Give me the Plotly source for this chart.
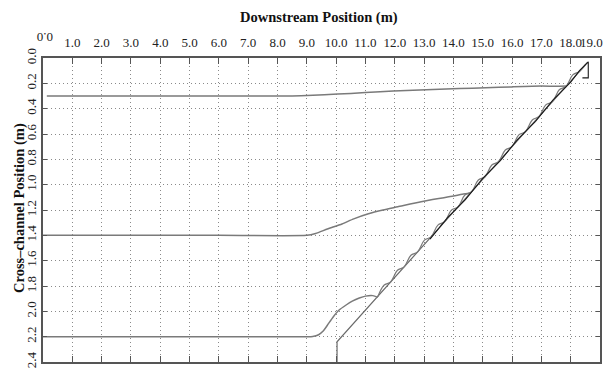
import plotly.graph_objects as go

# ---- data ----
x_ticks = [1.0, 2.0, 3.0, 4.0, 5.0, 6.0, 7.0, 8.0, 9.0, 10.0, 11.0, 12.0, 13.0, 14.0, 15.0, 16.0, 17.0, 18.0, 19.0]
x_tick_text = ["1.0", "2.0", "3.0", "4.0", "5.0", "6.0", "7.0", "8.0", "9.0", "10.0", "11.0", "12.0",
               "13.0", "14.0", "15.0", "16.0", "17.0", "18.0", "19.0"]
y_ticks = [0.0, 0.2, 0.4, 0.6, 0.8, 1.0, 1.2, 1.4, 1.6, 1.8, 2.0, 2.2, 2.4]
y_tick_text = ["0.0", "0.2", "0.4", "0.6", "0.8", "1.0", "1.2", "1.4", "1.6", "1.8", "2.0", "2.2", "2.4"]

# upper trajectory (starts at 0.3 m)
top_x = [0.13, 2.0, 5.0, 8.0, 8.8, 9.6, 10.5, 11.5, 12.4, 13.3, 14.2, 15.1, 16.0, 17.0, 17.5, 17.85]
top_y = [0.30, 0.30, 0.30, 0.30, 0.298, 0.290, 0.280, 0.266, 0.256, 0.248, 0.241, 0.235, 0.228, 0.222, 0.224, 0.222]

# middle trajectory (starts at 1.4 m)
mid_x = [0.0, 3.0, 6.0, 9.0, 9.3, 9.7, 10.2, 10.6, 11.1, 11.6, 12.1, 12.9, 13.5, 14.0, 14.3, 14.6]
mid_y = [1.40, 1.40, 1.40, 1.40, 1.385, 1.35, 1.31, 1.27, 1.23, 1.20, 1.175, 1.135, 1.11, 1.09, 1.075, 1.065]

# lower trajectory (starts at 2.2 m)
low_x = [0.0, 3.0, 6.0, 9.0, 9.2, 9.4, 9.54, 9.7, 9.88, 10.1, 10.34, 10.55, 10.79, 11.0, 11.25, 11.42]
low_y = [2.20, 2.20, 2.20, 2.20, 2.198, 2.185, 2.16, 2.11, 2.05, 1.99, 1.95, 1.92, 1.895, 1.88, 1.876, 1.89]

# wavy trace that follows the bank after the lower trajectory reaches it
wave_x = [11.42, 11.63, 11.86, 12.09, 12.32, 12.55, 12.78, 13.01, 13.24, 13.47, 13.70, 13.93, 14.16,
          14.39, 14.62, 14.85, 15.08, 15.31, 15.54, 15.77, 16.00, 16.23, 16.46, 16.69, 16.92,
          17.15, 17.38, 17.61, 17.84, 18.07, 18.30, 18.50]
wave_y = [1.885, 1.794, 1.768, 1.676, 1.649, 1.557, 1.531, 1.438, 1.412, 1.319, 1.293, 1.201, 1.175,
          1.082, 1.056, 0.963, 0.937, 0.845, 0.818, 0.726, 0.700, 0.607, 0.581, 0.489, 0.462,
          0.370, 0.344, 0.251, 0.225, 0.133, 0.106, 0.055]

# straight bank line
bank_x = [10.03, 10.03, 18.57]
bank_y = [2.40, 2.24, 0.036]

# dark trace along the bank
dark_x = [13.2, 13.8, 14.4, 15.0, 15.6, 16.2, 16.8, 17.4, 18.0, 18.3, 18.57, 18.6, 18.6, 18.4]
dark_y = [1.43, 1.26, 1.12, 0.95, 0.81, 0.64, 0.50, 0.33, 0.19, 0.10, 0.036, 0.03, 0.157, 0.157]

fig = go.Figure()
gray = "#7a7a7a"
fig.add_trace(go.Scatter(x=bank_x, y=bank_y, mode="lines", line=dict(color="#6a6a6a", width=1.2), hoverinfo="skip"))
fig.add_trace(go.Scatter(x=top_x, y=top_y, mode="lines", line=dict(color=gray, width=1.5, shape="spline", smoothing=0.6), hoverinfo="skip"))
fig.add_trace(go.Scatter(x=mid_x, y=mid_y, mode="lines", line=dict(color=gray, width=1.5, shape="spline", smoothing=0.6), hoverinfo="skip"))
fig.add_trace(go.Scatter(x=low_x, y=low_y, mode="lines", line=dict(color=gray, width=1.5, shape="spline", smoothing=0.6), hoverinfo="skip"))
fig.add_trace(go.Scatter(x=wave_x, y=wave_y, mode="lines", line=dict(color=gray, width=1.2, shape="spline", smoothing=1.0), hoverinfo="skip"))
fig.add_trace(go.Scatter(x=dark_x, y=dark_y, mode="lines", line=dict(color="#1a1a1a", width=1.1), hoverinfo="skip"))

serif = "Liberation Serif"
fig.update_layout(
    width=607, height=373,
    margin=dict(l=43, r=6, t=58, b=5),
    paper_bgcolor="white", plot_bgcolor="white",
    showlegend=False,
    font=dict(family=serif, size=13, color="#222"),
    xaxis=dict(
        range=[0, 19], side="top", tickvals=x_ticks[:-1], ticktext=x_tick_text[:-1],
        showgrid=True, gridcolor="#8a8a8a", griddash="1px,3px", gridwidth=1,
        showline=True, linecolor="#555", linewidth=1.5, mirror="ticks",
        ticks="inside", ticklen=6, tickcolor="#555", tickwidth=1,
        zeroline=False, tickfont=dict(family=serif, size=13, color="#222"),
        ticklabelstandoff=4,
    ),
    yaxis=dict(
        range=[2.4, 0], tickvals=y_ticks, ticktext=y_tick_text, tickangle=-90,
        showgrid=True, gridcolor="#8a8a8a", griddash="1px,3px", gridwidth=1,
        showline=True, linecolor="#555", linewidth=1.5, mirror="ticks",
        ticks="inside", ticklen=4, tickcolor="#555", tickwidth=1,
        zeroline=False, tickfont=dict(family=serif, size=13, color="#222"),
    ),
    annotations=[
        dict(text="<b>Downstream Position (m)</b>", xref="paper", yref="paper", x=0.495, y=1.0,
             yshift=41, showarrow=False, font=dict(family=serif, size=14.5, color="#111"),
             xanchor="center", yanchor="middle"),
        dict(text="<b>Cross\u2013channel Position (m)</b>", xref="paper", yref="paper", x=0, y=0.5,
             xshift=-24, yshift=2, textangle=-90, showarrow=False,
             font=dict(family=serif, size=14.5, color="#111"), xanchor="center", yanchor="middle"),
        dict(text="0.0", xref="x", yref="paper", x=0.05, y=1.0, yshift=20, textangle=180,
             showarrow=False, font=dict(family=serif, size=13, color="#222"),
             xanchor="center", yanchor="middle"),
        dict(text=x_tick_text[-1], xref="paper", yref="paper", x=1.0, y=1.0, xshift=5, yshift=15.5,
             showarrow=False, font=dict(family=serif, size=13, color="#222"),
             xanchor="right", yanchor="middle"),
    ],
)

fig.write_html("out.html")
